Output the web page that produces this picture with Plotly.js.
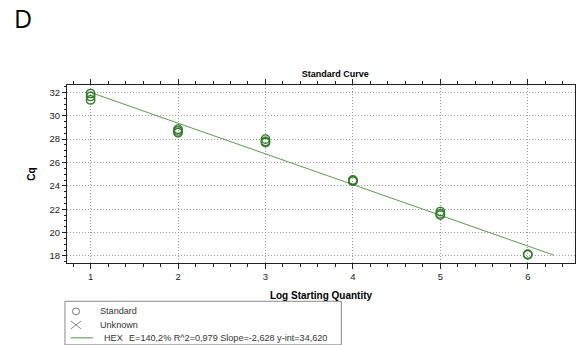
<!DOCTYPE html>
<html>
<head>
<meta charset="utf-8">
<script src="https://cdn.plot.ly/plotly-3.0.1.min.js"></script>
<style>
  html, body { margin: 0; padding: 0; background: #fff; }
  #chart { width: 576px; height: 345px; }
</style>
</head>
<body>
<div id="chart"></div>
<script>
// Standard wells: log starting quantity and measured Cq
const stdLogQty = [1, 1, 1, 2, 2, 2, 3, 3, 3, 4, 4, 4, 5, 5, 5, 6, 6];
const stdCq = [31.9, 31.65, 31.35, 28.85, 28.7, 28.55, 28.0, 27.8, 27.7, 24.5, 24.45, 24.4, 21.8, 21.6, 21.5, 18.15, 18.1];

// Linear fit reported for the HEX channel
const fitSlope = -2.628;
const fitIntercept = 34.620;
const fitEfficiency = '140,2%';
const fitR2 = '0,979';
const fitRange = [1, 6.3];
const fitY = fitRange.map(x => fitIntercept + fitSlope * x);

const xTickVals = [1, 2, 3, 4, 5, 6];
const yTickVals = [18, 20, 22, 24, 26, 28, 30, 32];

const xRange = [0.73, 6.54];
const yRange = [17.4, 32.63];

const FONT = 'Liberation Sans, Arial, sans-serif';
const LEG_FONT = { family: FONT, size: 9.1, color: '#333' };

const traces = [
  {
    x: fitRange, y: fitY, mode: 'lines', type: 'scatter',
    line: { color: '#5f9a52', width: 1 }, hoverinfo: 'skip'
  },
  {
    x: stdLogQty, y: stdCq, mode: 'markers', type: 'scatter',
    marker: { symbol: 'circle-open', size: 8.5, color: '#2f7a26', line: { width: 1.3 } }
  }
];

const baseX = {
  range: xRange, showline: true, linecolor: '#222', linewidth: 1,
  zeroline: false, fixedrange: true
};
const baseY = {
  range: yRange, showline: true, linecolor: '#222', linewidth: 1,
  zeroline: false, fixedrange: true
};

const layout = {
  width: 576, height: 345,
  margin: { l: 67, r: 1, t: 85, b: 82 },
  paper_bgcolor: '#fff', plot_bgcolor: '#fff',
  showlegend: false,
  font: { family: FONT, size: 9, color: '#222' },
  title: {
    text: '<b>Standard Curve</b>', font: { family: FONT, size: 9, color: '#000' },
    x: 0.528, xanchor: 'center', y: 0.786, yanchor: 'middle', xref: 'paper', yref: 'container'
  },
  xaxis: Object.assign({}, baseX, {
    tickmode: 'array', tickvals: xTickVals, ticks: 'outside', ticklen: 5, tickcolor: '#222',
    mirror: 'allticks',
    tickfont: { family: FONT, size: 9.5, color: '#222' },
    showgrid: true, gridcolor: '#999', griddash: '1px,2px', gridwidth: 1,
    minor: { dtick: 0.2, tick0: 0, ticks: 'outside', ticklen: 3, tickcolor: '#222', showgrid: false },
    title: { text: '<b>Log Starting Quantity</b>', font: { family: FONT, size: 10, color: '#000' }, standoff: 10 }
  }),
  xaxis2: Object.assign({}, baseX, {
    overlaying: 'x', anchor: 'y', side: 'bottom',
    tickmode: 'array', tickvals: xTickVals, ticks: 'inside', ticklen: 3, tickcolor: '#222',
    mirror: 'allticks', showticklabels: false, showgrid: false,
    minor: { dtick: 0.2, tick0: 0, ticks: 'inside', ticklen: 2, tickcolor: '#222' }
  }),
  yaxis: Object.assign({}, baseY, {
    tickmode: 'array', tickvals: yTickVals, ticks: 'outside', ticklen: 4, tickcolor: '#222',
    mirror: 'allticks',
    tickfont: { family: FONT, size: 9.5, color: '#222' },
    showgrid: true, gridcolor: '#999', griddash: '1px,2px', gridwidth: 1,
    minor: { dtick: 0.5, tick0: 0, ticks: 'outside', ticklen: 2.5, tickcolor: '#222', showgrid: false },
    title: { text: '<b>Cq</b>', font: { family: FONT, size: 10, color: '#000' }, standoff: 12 }
  }),
  yaxis2: Object.assign({}, baseY, {
    overlaying: 'y', anchor: 'x', side: 'left',
    tickmode: 'array', tickvals: yTickVals, ticks: 'inside', ticklen: 3, tickcolor: '#222',
    mirror: 'allticks', showticklabels: false, showgrid: false,
    minor: { dtick: 0.5, tick0: 0, ticks: 'inside', ticklen: 2.5, tickcolor: '#222' }
  }),
  shapes: [
    // legend box
    { type: 'rect', xref: 'paper', yref: 'paper', x0: -0.004, x1: 0.54, y0: -0.46, y1: -0.215,
      line: { color: '#8a8a8a', width: 1 }, fillcolor: 'rgba(0,0,0,0)' },
    // legend glyph: standard (open circle)
    { type: 'circle', xref: 'paper', yref: 'paper', x0: 0.0107, x1: 0.0247, y0: -0.291, y1: -0.253,
      line: { color: '#777', width: 1 } },
    // legend glyph: unknown (cross)
    { type: 'line', xref: 'paper', yref: 'paper', x0: 0.0077, x1: 0.0277, y0: -0.326, y1: -0.370,
      line: { color: '#888', width: 1 } },
    { type: 'line', xref: 'paper', yref: 'paper', x0: 0.0077, x1: 0.0277, y0: -0.370, y1: -0.326,
      line: { color: '#888', width: 1 } },
    // legend glyph: fit line
    { type: 'line', xref: 'paper', yref: 'paper', x0: 0.0073, x1: 0.051, y0: -0.420, y1: -0.420,
      line: { color: '#8db487', width: 1.5 } }
  ],
  annotations: [
    { text: 'D', xref: 'paper', yref: 'paper', x: -0.0866, y: 1.375, xanchor: 'center', yanchor: 'middle',
      showarrow: false, font: { family: 'Open Sans, DejaVu Sans, sans-serif', size: 25, color: '#000' } },
    { text: 'Standard', xref: 'paper', yref: 'paper', x: 0.0616, y: -0.272, xanchor: 'left', yanchor: 'middle',
      showarrow: false, font: LEG_FONT },
    { text: 'Unknown', xref: 'paper', yref: 'paper', x: 0.0616, y: -0.348, xanchor: 'left', yanchor: 'middle',
      showarrow: false, font: LEG_FONT },
    { text: 'HEX', xref: 'paper', yref: 'paper', x: 0.068, y: -0.420, xanchor: 'left', yanchor: 'middle',
      showarrow: false, font: LEG_FONT },
    { text: 'E=' + fitEfficiency + ' R^2=' + fitR2 + ' Slope=' + fitSlope.toFixed(3).replace('.', ',') +
            ' y-int=' + fitIntercept.toFixed(3).replace('.', ','),
      xref: 'paper', yref: 'paper', x: 0.1175, y: -0.420, xanchor: 'left', yanchor: 'middle',
      showarrow: false, font: LEG_FONT }
  ]
};

Plotly.newPlot('chart', traces, layout, { displayModeBar: false, staticPlot: true });
</script>
</body>
</html>
